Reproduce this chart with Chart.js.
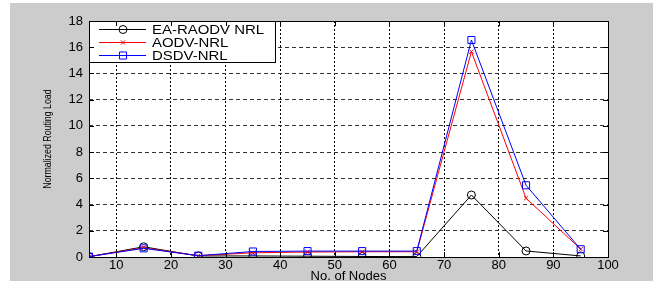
<!DOCTYPE html>
<html>
<head>
<meta charset="utf-8">
<script src="https://cdn.jsdelivr.net/npm/chart.js@4.4.1/dist/chart.umd.min.js"></script>
<style>
  html, body { margin: 0; padding: 0; background: #fff; }
  canvas { display: block; }
</style>
</head>
<body>
<canvas id="chart" width="653" height="282"></canvas>
<script>
// values
const nodes = [5, 15, 25, 35, 45, 55, 65, 75, 85, 95];
const eaRaodv = [0.02, 0.78, 0.08, 0.08, 0.06, 0.04, 0.03, 4.73, 0.46, 0.08];
const aodv = [0.03, 0.70, 0.10, 0.32, 0.38, 0.40, 0.40, 15.66, 4.48, 0.60];
const dsdv = [0.03, 0.66, 0.10, 0.42, 0.45, 0.45, 0.45, 16.55, 5.47, 0.59];
const seriesNames = ['EA-RAODV NRL', 'AODV-NRL', 'DSDV-NRL'];
const xTicks = [10, 20, 30, 40, 50, 60, 70, 80, 90, 100];
const yTicks = [0, 2, 4, 6, 8, 10, 12, 14, 16, 18];
const xTitle = 'No. of Nodes';
const yTitle = 'Normalized Routing Load';

const FONT = '"Liberation Sans", Arial, sans-serif';
const toPoints = (vals) => vals.map((v, i) => ({ x: nodes[i], y: v }));

// matlab-ish figure: grey frame, white axes, black box with inward ticks
const figureFrame = {
  id: 'figureFrame',
  beforeDraw(chart) {
    const { ctx, chartArea: a } = chart;
    ctx.save();
    ctx.fillStyle = '#fff';
    ctx.fillRect(0, 0, chart.width, chart.height);
    ctx.fillStyle = '#cccccc';
    ctx.fillRect(10, 3, chart.width - 10, chart.height - 4);
    ctx.fillStyle = '#fff';
    ctx.fillRect(a.left, a.top, a.right - a.left, a.bottom - a.top);
    ctx.restore();
  },
  afterDraw(chart) {
    const { ctx, chartArea: a, scales } = chart;
    ctx.save();
    ctx.strokeStyle = '#000';
    ctx.lineWidth = 1;
    ctx.beginPath();
    scales.x.ticks.forEach(t => {
      const px = Math.round(scales.x.getPixelForValue(t.value)) + 0.5;
      ctx.moveTo(px, a.bottom); ctx.lineTo(px, a.bottom - 5);
      ctx.moveTo(px, a.top); ctx.lineTo(px, a.top + 5);
    });
    scales.y.ticks.forEach(t => {
      const py = Math.round(scales.y.getPixelForValue(t.value)) + 0.5;
      ctx.moveTo(a.left, py); ctx.lineTo(a.left + 5, py);
      ctx.moveTo(a.right, py); ctx.lineTo(a.right - 5, py);
    });
    ctx.stroke();
    ctx.strokeRect(Math.round(a.left) + 0.5, Math.round(a.top) + 0.5,
      Math.round(a.right - a.left), Math.round(a.bottom - a.top));

    ctx.fillStyle = '#000';
    ctx.textAlign = 'center';
    ctx.textBaseline = 'middle';

    // x axis title
    ctx.font = '13px ' + FONT;
    ctx.fillText(xTitle, (a.left + a.right) / 2, 276);

    // y axis title, narrow like the original
    ctx.font = '11px ' + FONT;
    ctx.translate(48, (a.top + a.bottom) / 2);
    ctx.rotate(-Math.PI / 2);
    ctx.scale(0.8, 1);
    ctx.fillText(yTitle, 0, 0);
    ctx.restore();
  }
};

// legend box inside the axes, top-left
const legendBox = {
  id: 'legendBox',
  afterDatasetsDraw(chart) {
    const { ctx, chartArea: a } = chart;
    const x0 = Math.round(a.left), y0 = Math.round(a.top);
    ctx.save();
    ctx.fillStyle = '#fff';
    ctx.fillRect(x0, y0, 186, 41);
    ctx.strokeStyle = '#000';
    ctx.lineWidth = 1;
    ctx.strokeRect(x0 + 0.5, y0 + 0.5, 186, 41);
    chart.data.datasets.forEach((ds, i) => {
      const y = y0 + 8.5 + i * 13;
      ctx.strokeStyle = ds.borderColor;
      ctx.lineWidth = 1;
      ctx.beginPath();
      ctx.moveTo(x0 + 10, y);
      ctx.lineTo(x0 + 57, y);
      ctx.stroke();
      ctx.fillStyle = 'rgba(0,0,0,0)';
      Chart.helpers.drawPoint(ctx, {
        pointStyle: ds.pointStyle, radius: ds.pointRadius, borderWidth: 1, rotation: 0
      }, x0 + 34, y);
      ctx.save();
      ctx.fillStyle = '#000';
      ctx.font = '13px ' + FONT;
      ctx.textBaseline = 'middle';
      ctx.translate(x0 + 63, y + 0.5);
      ctx.scale(1.15, 1);
      ctx.fillText(ds.label, 0, 0);
      ctx.restore();
    });
    ctx.restore();
  }
};

new Chart(document.getElementById('chart'), {
  type: 'line',
  data: {
    datasets: [
      {
        label: seriesNames[0],
        data: toPoints(eaRaodv),
        borderColor: '#000000',
        pointStyle: 'circle',
        pointRadius: 4,
        order: 2
      },
      {
        label: seriesNames[1],
        data: toPoints(aodv),
        borderColor: '#ff0000',
        pointStyle: 'crossRot',
        pointRadius: 3,
        order: 1
      },
      {
        label: seriesNames[2],
        data: toPoints(dsdv),
        borderColor: '#0000ff',
        pointStyle: 'rect',
        pointRadius: 5,
        order: 0
      }
    ]
  },
  options: {
    responsive: false,
    animation: false,
    layout: { padding: { top: 21, right: 45, left: 0, bottom: 0 } },
    elements: {
      line: { borderWidth: 1, tension: 0, fill: false },
      point: { borderWidth: 1, backgroundColor: 'rgba(0,0,0,0)', hoverRadius: 4 }
    },
    plugins: {
      legend: { display: false },
      tooltip: { enabled: false }
    },
    scales: {
      x: {
        type: 'linear',
        min: 5,
        max: 100,
        afterBuildTicks: (scale) => { scale.ticks = xTicks.map(v => ({ value: v })); },
        afterFit: (scale) => { scale.height = 25; },
        ticks: {
          color: '#000',
          padding: 1,
          maxRotation: 0,
          font: { family: FONT, size: 13 }
        },
        grid: { color: '#000', drawTicks: false },
        border: { display: false, dash: [2, 2] }
      },
      y: {
        min: 0,
        max: 18,
        afterBuildTicks: (scale) => { scale.ticks = yTicks.map(v => ({ value: v })); },
        afterFit: (scale) => { scale.width = 89; },
        ticks: {
          color: '#000',
          padding: 6,
          font: { family: FONT, size: 13 }
        },
        grid: { color: '#333', drawTicks: false },
        border: { display: false, dash: [4, 3] }
      }
    }
  },
  plugins: [figureFrame, legendBox]
});
</script>
</body>
</html>
